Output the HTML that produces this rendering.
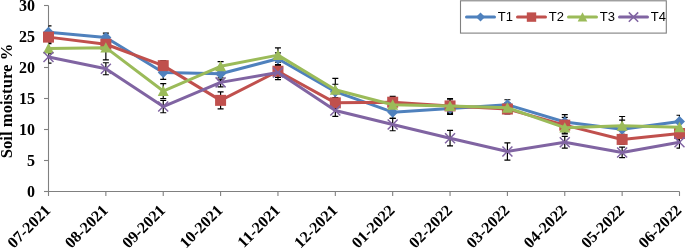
<!DOCTYPE html>
<html><head><meta charset="utf-8"><style>
html,body{margin:0;padding:0;background:#fff;}
body{width:685px;height:248px;overflow:hidden;}
svg{display:block;}
.lab{font-family:"Liberation Serif",serif;font-weight:bold;font-size:16px;fill:#000;}
.leg{font-family:"Liberation Sans",sans-serif;font-size:13px;fill:#000;}
</style></head><body>
<svg width="685" height="248" viewBox="0 0 685 248">
<defs><clipPath id="pc"><rect x="48.5" y="0" width="631.5" height="191"/></clipPath></defs>
<path d="M48.5,5.5V191.5H679.5" stroke="#808080" stroke-width="1.1" fill="none"/>
<path d="M44,191.5H48.5" stroke="#808080" stroke-width="1.1"/>
<path d="M44,160.5H48.5" stroke="#808080" stroke-width="1.1"/>
<path d="M44,129.5H48.5" stroke="#808080" stroke-width="1.1"/>
<path d="M44,98.5H48.5" stroke="#808080" stroke-width="1.1"/>
<path d="M44,67.5H48.5" stroke="#808080" stroke-width="1.1"/>
<path d="M44,36.5H48.5" stroke="#808080" stroke-width="1.1"/>
<path d="M44,5.5H48.5" stroke="#808080" stroke-width="1.1"/>
<path d="M48.50,191.5V196" stroke="#808080" stroke-width="1.1"/>
<path d="M105.86,191.5V196" stroke="#808080" stroke-width="1.1"/>
<path d="M163.23,191.5V196" stroke="#808080" stroke-width="1.1"/>
<path d="M220.59,191.5V196" stroke="#808080" stroke-width="1.1"/>
<path d="M277.95,191.5V196" stroke="#808080" stroke-width="1.1"/>
<path d="M335.32,191.5V196" stroke="#808080" stroke-width="1.1"/>
<path d="M392.68,191.5V196" stroke="#808080" stroke-width="1.1"/>
<path d="M450.05,191.5V196" stroke="#808080" stroke-width="1.1"/>
<path d="M507.41,191.5V196" stroke="#808080" stroke-width="1.1"/>
<path d="M564.77,191.5V196" stroke="#808080" stroke-width="1.1"/>
<path d="M622.14,191.5V196" stroke="#808080" stroke-width="1.1"/>
<path d="M679.50,191.5V196" stroke="#808080" stroke-width="1.1"/>
<text x="35" y="197.00" text-anchor="end" class="lab">0</text>
<text x="35" y="166.00" text-anchor="end" class="lab">5</text>
<text x="35" y="135.00" text-anchor="end" class="lab">10</text>
<text x="35" y="104.00" text-anchor="end" class="lab">15</text>
<text x="35" y="73.00" text-anchor="end" class="lab">20</text>
<text x="35" y="42.00" text-anchor="end" class="lab">25</text>
<text x="35" y="11.00" text-anchor="end" class="lab">30</text>
<text transform="translate(11.5,101) rotate(-90)" text-anchor="middle" class="lab" style="font-size:16.7px">Soil moisture %</text>
<text transform="translate(51.50,211.3) rotate(-45)" text-anchor="end" class="lab">07-2021</text>
<text transform="translate(108.86,211.3) rotate(-45)" text-anchor="end" class="lab">08-2021</text>
<text transform="translate(166.23,211.3) rotate(-45)" text-anchor="end" class="lab">09-2021</text>
<text transform="translate(223.59,211.3) rotate(-45)" text-anchor="end" class="lab">10-2021</text>
<text transform="translate(280.95,211.3) rotate(-45)" text-anchor="end" class="lab">11-2021</text>
<text transform="translate(338.32,211.3) rotate(-45)" text-anchor="end" class="lab">12-2021</text>
<text transform="translate(395.68,211.3) rotate(-45)" text-anchor="end" class="lab">01-2022</text>
<text transform="translate(453.05,211.3) rotate(-45)" text-anchor="end" class="lab">02-2022</text>
<text transform="translate(510.41,211.3) rotate(-45)" text-anchor="end" class="lab">03-2022</text>
<text transform="translate(567.77,211.3) rotate(-45)" text-anchor="end" class="lab">04-2022</text>
<text transform="translate(625.14,211.3) rotate(-45)" text-anchor="end" class="lab">05-2022</text>
<text transform="translate(682.50,211.3) rotate(-45)" text-anchor="end" class="lab">06-2022</text>
<g clip-path="url(#pc)">
<path d="M48.50,25.96V38.36M45.50,25.96H51.50M45.50,38.36H51.50" stroke="#000" stroke-width="1.2" fill="none"/>
<path d="M105.86,33.09V41.77M102.86,33.09H108.86M102.86,41.77H108.86" stroke="#000" stroke-width="1.2" fill="none"/>
<path d="M163.23,65.64V79.28M160.23,65.64H166.23M160.23,79.28H166.23" stroke="#000" stroke-width="1.2" fill="none"/>
<path d="M220.59,67.50V79.90M217.59,67.50H223.59M217.59,79.90H223.59" stroke="#000" stroke-width="1.2" fill="none"/>
<path d="M277.95,52.93V64.71M274.95,52.93H280.95M274.95,64.71H280.95" stroke="#000" stroke-width="1.2" fill="none"/>
<path d="M335.32,84.24V99.12M332.32,84.24H338.32M332.32,99.12H338.32" stroke="#000" stroke-width="1.2" fill="none"/>
<path d="M392.68,105.94V118.34M389.68,105.94H395.68M389.68,118.34H395.68" stroke="#000" stroke-width="1.2" fill="none"/>
<path d="M450.05,102.53V114.31M447.05,102.53H453.05M447.05,114.31H453.05" stroke="#000" stroke-width="1.2" fill="none"/>
<path d="M507.41,99.74V109.66M504.41,99.74H510.41M504.41,109.66H510.41" stroke="#000" stroke-width="1.2" fill="none"/>
<path d="M564.77,114.62V129.50M561.77,114.62H567.77M561.77,129.50H567.77" stroke="#000" stroke-width="1.2" fill="none"/>
<path d="M622.14,120.20V138.18M619.14,120.20H625.14M619.14,138.18H625.14" stroke="#000" stroke-width="1.2" fill="none"/>
<path d="M679.50,115.24V127.64M676.50,115.24H682.50M676.50,127.64H682.50" stroke="#000" stroke-width="1.2" fill="none"/>
<path d="M48.50,32.16V42.08M45.50,32.16H51.50M45.50,42.08H51.50" stroke="#000" stroke-width="1.2" fill="none"/>
<path d="M105.86,38.05V50.45M102.86,38.05H108.86M102.86,50.45H108.86" stroke="#000" stroke-width="1.2" fill="none"/>
<path d="M163.23,60.68V70.60M160.23,60.68H166.23M160.23,70.60H166.23" stroke="#000" stroke-width="1.2" fill="none"/>
<path d="M220.59,91.87V108.85M217.59,91.87H223.59M217.59,108.85H223.59" stroke="#000" stroke-width="1.2" fill="none"/>
<path d="M277.95,65.02V77.42M274.95,65.02H280.95M274.95,77.42H280.95" stroke="#000" stroke-width="1.2" fill="none"/>
<path d="M335.32,97.57V108.11M332.32,97.57H338.32M332.32,108.11H338.32" stroke="#000" stroke-width="1.2" fill="none"/>
<path d="M392.68,96.33V108.11M389.68,96.33H395.68M389.68,108.11H395.68" stroke="#000" stroke-width="1.2" fill="none"/>
<path d="M450.05,98.50V113.38M447.05,98.50H453.05M447.05,113.38H453.05" stroke="#000" stroke-width="1.2" fill="none"/>
<path d="M507.41,104.08V114.00M504.41,104.08H510.41M504.41,114.00H510.41" stroke="#000" stroke-width="1.2" fill="none"/>
<path d="M564.77,117.29V133.03M561.77,117.29H567.77M561.77,133.03H567.77" stroke="#000" stroke-width="1.2" fill="none"/>
<path d="M622.14,134.46V144.38M619.14,134.46H625.14M619.14,144.38H625.14" stroke="#000" stroke-width="1.2" fill="none"/>
<path d="M679.50,127.33V139.73M676.50,127.33H682.50M676.50,139.73H682.50" stroke="#000" stroke-width="1.2" fill="none"/>
<path d="M48.50,43.63V53.55M45.50,43.63H51.50M45.50,53.55H51.50" stroke="#000" stroke-width="1.2" fill="none"/>
<path d="M105.86,35.45V59.87M102.86,35.45H108.86M102.86,59.87H108.86" stroke="#000" stroke-width="1.2" fill="none"/>
<path d="M163.23,83.62V98.50M160.23,83.62H166.23M160.23,98.50H166.23" stroke="#000" stroke-width="1.2" fill="none"/>
<path d="M220.59,61.61V70.91M217.59,61.61H223.59M217.59,70.91H223.59" stroke="#000" stroke-width="1.2" fill="none"/>
<path d="M277.95,47.97V62.23M274.95,47.97H280.95M274.95,62.23H280.95" stroke="#000" stroke-width="1.2" fill="none"/>
<path d="M335.32,78.35V101.29M332.32,78.35H338.32M332.32,101.29H338.32" stroke="#000" stroke-width="1.2" fill="none"/>
<path d="M392.68,98.50V110.90M389.68,98.50H395.68M389.68,110.90H395.68" stroke="#000" stroke-width="1.2" fill="none"/>
<path d="M450.05,99.74V112.14M447.05,99.74H453.05M447.05,112.14H453.05" stroke="#000" stroke-width="1.2" fill="none"/>
<path d="M507.41,102.84V112.76M504.41,102.84H510.41M504.41,112.76H510.41" stroke="#000" stroke-width="1.2" fill="none"/>
<path d="M564.77,121.44V133.84M561.77,121.44H567.77M561.77,133.84H567.77" stroke="#000" stroke-width="1.2" fill="none"/>
<path d="M622.14,116.48V135.08M619.14,116.48H625.14M619.14,135.08H625.14" stroke="#000" stroke-width="1.2" fill="none"/>
<path d="M679.50,121.13V133.53M676.50,121.13H682.50M676.50,133.53H682.50" stroke="#000" stroke-width="1.2" fill="none"/>
<path d="M48.50,50.76V63.16M45.50,50.76H51.50M45.50,63.16H51.50" stroke="#000" stroke-width="1.2" fill="none"/>
<path d="M105.86,62.73V74.75M102.86,62.73H108.86M102.86,74.75H108.86" stroke="#000" stroke-width="1.2" fill="none"/>
<path d="M163.23,100.36V112.76M160.23,100.36H166.23M160.23,112.76H166.23" stroke="#000" stroke-width="1.2" fill="none"/>
<path d="M220.59,77.85V86.91M217.59,77.85H223.59M217.59,86.91H223.59" stroke="#000" stroke-width="1.2" fill="none"/>
<path d="M277.95,65.33V79.59M274.95,65.33H280.95M274.95,79.59H280.95" stroke="#000" stroke-width="1.2" fill="none"/>
<path d="M335.32,104.64V116.42M332.32,104.64H338.32M332.32,116.42H338.32" stroke="#000" stroke-width="1.2" fill="none"/>
<path d="M392.68,118.34V130.74M389.68,118.34H395.68M389.68,130.74H395.68" stroke="#000" stroke-width="1.2" fill="none"/>
<path d="M450.05,130.43V145.93M447.05,130.43H453.05M447.05,145.93H453.05" stroke="#000" stroke-width="1.2" fill="none"/>
<path d="M507.41,142.83V160.19M504.41,142.83H510.41M504.41,160.19H510.41" stroke="#000" stroke-width="1.2" fill="none"/>
<path d="M564.77,136.38V148.04M561.77,136.38H567.77M561.77,148.04H567.77" stroke="#000" stroke-width="1.2" fill="none"/>
<path d="M622.14,147.17V157.71M619.14,147.17H625.14M619.14,157.71H625.14" stroke="#000" stroke-width="1.2" fill="none"/>
<path d="M679.50,136.20V148.22M676.50,136.20H682.50M676.50,148.22H682.50" stroke="#000" stroke-width="1.2" fill="none"/>
</g>
<polyline points="48.50,32.16 105.86,37.43 163.23,72.46 220.59,73.70 277.95,58.82 335.32,91.68 392.68,112.14 450.05,108.42 507.41,104.70 564.77,122.06 622.14,129.19 679.50,121.44" fill="none" stroke="#4F81BD" stroke-width="3" stroke-linejoin="round" stroke-linecap="round"/>
<polygon points="48.50,26.66 54.00,32.16 48.50,37.66 43.00,32.16" fill="#4F81BD"/>
<polygon points="105.86,31.93 111.36,37.43 105.86,42.93 100.36,37.43" fill="#4F81BD"/>
<polygon points="163.23,66.96 168.73,72.46 163.23,77.96 157.73,72.46" fill="#4F81BD"/>
<polygon points="220.59,68.20 226.09,73.70 220.59,79.20 215.09,73.70" fill="#4F81BD"/>
<polygon points="277.95,53.32 283.45,58.82 277.95,64.32 272.45,58.82" fill="#4F81BD"/>
<polygon points="335.32,86.18 340.82,91.68 335.32,97.18 329.82,91.68" fill="#4F81BD"/>
<polygon points="392.68,106.64 398.18,112.14 392.68,117.64 387.18,112.14" fill="#4F81BD"/>
<polygon points="450.05,102.92 455.55,108.42 450.05,113.92 444.55,108.42" fill="#4F81BD"/>
<polygon points="507.41,99.20 512.91,104.70 507.41,110.20 501.91,104.70" fill="#4F81BD"/>
<polygon points="564.77,116.56 570.27,122.06 564.77,127.56 559.27,122.06" fill="#4F81BD"/>
<polygon points="622.14,123.69 627.64,129.19 622.14,134.69 616.64,129.19" fill="#4F81BD"/>
<polygon points="679.50,115.94 685.00,121.44 679.50,126.94 674.00,121.44" fill="#4F81BD"/>
<polyline points="48.50,37.12 105.86,44.25 163.23,65.64 220.59,100.36 277.95,71.22 335.32,102.84 392.68,102.22 450.05,105.94 507.41,109.04 564.77,125.16 622.14,139.42 679.50,133.53" fill="none" stroke="#C0504D" stroke-width="3" stroke-linejoin="round" stroke-linecap="round"/>
<rect x="43.00" y="31.62" width="11.0" height="11.0" fill="#C0504D"/>
<rect x="100.36" y="38.75" width="11.0" height="11.0" fill="#C0504D"/>
<rect x="157.73" y="60.14" width="11.0" height="11.0" fill="#C0504D"/>
<rect x="215.09" y="94.86" width="11.0" height="11.0" fill="#C0504D"/>
<rect x="272.45" y="65.72" width="11.0" height="11.0" fill="#C0504D"/>
<rect x="329.82" y="97.34" width="11.0" height="11.0" fill="#C0504D"/>
<rect x="387.18" y="96.72" width="11.0" height="11.0" fill="#C0504D"/>
<rect x="444.55" y="100.44" width="11.0" height="11.0" fill="#C0504D"/>
<rect x="501.91" y="103.54" width="11.0" height="11.0" fill="#C0504D"/>
<rect x="559.27" y="119.66" width="11.0" height="11.0" fill="#C0504D"/>
<rect x="616.64" y="133.92" width="11.0" height="11.0" fill="#C0504D"/>
<rect x="674.00" y="128.03" width="11.0" height="11.0" fill="#C0504D"/>
<polyline points="48.50,48.59 105.86,47.66 163.23,91.06 220.59,66.26 277.95,55.10 335.32,89.82 392.68,104.70 450.05,105.94 507.41,107.80 564.77,127.64 622.14,125.78 679.50,127.33" fill="none" stroke="#9BBB59" stroke-width="3" stroke-linejoin="round" stroke-linecap="round"/>
<polygon points="48.50,43.09 54.00,53.54 43.00,53.54" fill="#9BBB59"/>
<polygon points="105.86,42.16 111.36,52.61 100.36,52.61" fill="#9BBB59"/>
<polygon points="163.23,85.56 168.73,96.01 157.73,96.01" fill="#9BBB59"/>
<polygon points="220.59,60.76 226.09,71.21 215.09,71.21" fill="#9BBB59"/>
<polygon points="277.95,49.60 283.45,60.05 272.45,60.05" fill="#9BBB59"/>
<polygon points="335.32,84.32 340.82,94.77 329.82,94.77" fill="#9BBB59"/>
<polygon points="392.68,99.20 398.18,109.65 387.18,109.65" fill="#9BBB59"/>
<polygon points="450.05,100.44 455.55,110.89 444.55,110.89" fill="#9BBB59"/>
<polygon points="507.41,102.30 512.91,112.75 501.91,112.75" fill="#9BBB59"/>
<polygon points="564.77,122.14 570.27,132.59 559.27,132.59" fill="#9BBB59"/>
<polygon points="622.14,120.28 627.64,130.73 616.64,130.73" fill="#9BBB59"/>
<polygon points="679.50,121.83 685.00,132.28 674.00,132.28" fill="#9BBB59"/>
<polyline points="48.50,56.96 105.86,68.74 163.23,106.56 220.59,82.38 277.95,72.46 335.32,110.53 392.68,124.54 450.05,138.18 507.41,151.51 564.77,142.21 622.14,152.44 679.50,142.21" fill="none" stroke="#8064A2" stroke-width="3" stroke-linejoin="round" stroke-linecap="round"/>
<path d="M43.50,51.96L53.50,61.96M43.50,61.96L53.50,51.96" stroke="#8064A2" stroke-width="1.5" fill="none"/>
<path d="M100.86,63.74L110.86,73.74M100.86,73.74L110.86,63.74" stroke="#8064A2" stroke-width="1.5" fill="none"/>
<path d="M158.23,101.56L168.23,111.56M158.23,111.56L168.23,101.56" stroke="#8064A2" stroke-width="1.5" fill="none"/>
<path d="M215.59,77.38L225.59,87.38M215.59,87.38L225.59,77.38" stroke="#8064A2" stroke-width="1.5" fill="none"/>
<path d="M272.95,67.46L282.95,77.46M272.95,77.46L282.95,67.46" stroke="#8064A2" stroke-width="1.5" fill="none"/>
<path d="M330.32,105.53L340.32,115.53M330.32,115.53L340.32,105.53" stroke="#8064A2" stroke-width="1.5" fill="none"/>
<path d="M387.68,119.54L397.68,129.54M387.68,129.54L397.68,119.54" stroke="#8064A2" stroke-width="1.5" fill="none"/>
<path d="M445.05,133.18L455.05,143.18M445.05,143.18L455.05,133.18" stroke="#8064A2" stroke-width="1.5" fill="none"/>
<path d="M502.41,146.51L512.41,156.51M502.41,156.51L512.41,146.51" stroke="#8064A2" stroke-width="1.5" fill="none"/>
<path d="M559.77,137.21L569.77,147.21M559.77,147.21L569.77,137.21" stroke="#8064A2" stroke-width="1.5" fill="none"/>
<path d="M617.14,147.44L627.14,157.44M617.14,157.44L627.14,147.44" stroke="#8064A2" stroke-width="1.5" fill="none"/>
<path d="M674.50,137.21L684.50,147.21M674.50,147.21L684.50,137.21" stroke="#8064A2" stroke-width="1.5" fill="none"/>
<rect x="460.5" y="0.8" width="205.8" height="32.3" fill="#fff" stroke="#808080" stroke-width="1.1"/>
<path d="M466.5,17.1H494.5" stroke="#4F81BD" stroke-width="3" stroke-linecap="round"/>
<polygon points="480.50,12.60 485.00,17.10 480.50,21.60 476.00,17.10" fill="#4F81BD"/>
<text x="497.7" y="20.6" class="leg">T1</text>
<path d="M517.5,17.1H545.5" stroke="#C0504D" stroke-width="3" stroke-linecap="round"/>
<rect x="526.80" y="12.40" width="9.4" height="9.4" fill="#C0504D"/>
<text x="548.7" y="20.6" class="leg">T2</text>
<path d="M568.5,17.1H596.5" stroke="#9BBB59" stroke-width="3" stroke-linecap="round"/>
<polygon points="582.50,12.30 587.30,21.42 577.70,21.42" fill="#9BBB59"/>
<text x="599.7" y="20.6" class="leg">T3</text>
<path d="M619.5,17.1H647.5" stroke="#8064A2" stroke-width="3" stroke-linecap="round"/>
<path d="M628.80,12.40L638.20,21.80M628.80,21.80L638.20,12.40" stroke="#8064A2" stroke-width="1.5" fill="none"/>
<text x="650.7" y="20.6" class="leg">T4</text>
</svg>
</body></html>
